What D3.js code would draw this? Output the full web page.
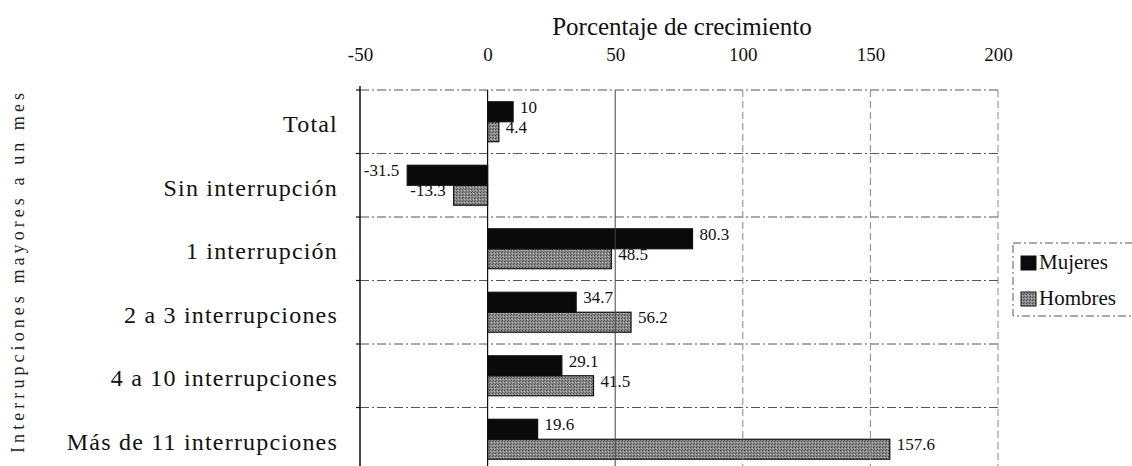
<!DOCTYPE html>
<html><head><meta charset="utf-8">
<script src="https://cdn.jsdelivr.net/npm/d3@7"></script>
<style>html,body{margin:0;padding:0;background:#fff;} svg{display:block;}</style>
</head><body>
<script>
const categories = ["Total","Sin interrupción","1 interrupción","2 a 3 interrupciones","4 a 10 interrupciones","Más de 11 interrupciones"];
const series = ["Mujeres","Hombres"];
const mujeres = [10, -31.5, 80.3, 34.7, 29.1, 19.6];
const hombres = [4.4, -13.3, 48.5, 56.2, 41.5, 157.6];
const xTicks = [-50, 0, 50, 100, 150, 200];
const xTitle = "Porcentaje de crecimiento";
const yTitle = "Interrupciones mayores a un mes";

const W = 1132, H = 466;
const FONT = "'Liberation Serif', 'Times New Roman', serif";
const svg = d3.select("body").append("svg").attr("width", W).attr("height", H)
  .style("font-family", FONT);

const defs = svg.append("defs");
const pat = defs.append("pattern").attr("id","hpat").attr("width",3).attr("height",3)
  .attr("patternUnits","userSpaceOnUse");
pat.append("rect").attr("width",3).attr("height",3).attr("fill","#8a8a8a");
pat.append("rect").attr("x",0).attr("y",0).attr("width",1).attr("height",1).attr("fill","#4a4a4a");
pat.append("rect").attr("x",2).attr("y",1).attr("width",1).attr("height",1).attr("fill","#b8b8b8");
pat.append("rect").attr("x",1).attr("y",2).attr("width",1).attr("height",1).attr("fill","#5e5e5e");

const x = d3.scaleLinear().domain([-50, 200]).range([360, 998]);
const y = d3.scaleBand().domain(categories).range([90, 471]).padding(0);
const yi = d3.scaleBand().domain(series).range([0, y.bandwidth()]).paddingInner(0).paddingOuter(0.59);

const rows = categories.map((c,i)=>({cat:c, Mujeres:mujeres[i], Hombres:hombres[i]}));

// horizontal row separators
const bounds = categories.map(c=>y(c)).concat([y.range()[1]]);
svg.append("g").selectAll("line").data(bounds).join("line")
  .attr("x1", x(-50)).attr("x2", x(200)).attr("y1", d=>d).attr("y2", d=>d)
  .attr("stroke", "#555").attr("stroke-width", 1).attr("stroke-dasharray", "9,3,2,3");

function drawSeries(name, fill) {
  const g = svg.append("g");
  g.selectAll("rect").data(rows).join("rect")
    .attr("x", d=>x(Math.min(0,d[name])))
    .attr("y", d=>y(d.cat)+yi(name))
    .attr("width", d=>Math.abs(x(d[name])-x(0)))
    .attr("height", yi.bandwidth())
    .attr("fill", fill).attr("stroke", "#111").attr("stroke-width", 1.2);
}
function drawLabels(name) {
  svg.append("g").selectAll("text").data(rows).join("text")
    .attr("x", d=> d[name] >= 0 ? x(d[name]) + 7 : x(d[name]) - 8)
    .attr("y", d=>y(d.cat)+yi(name)+yi.bandwidth()/2 - 5)
    .attr("dy","0.35em")
    .attr("text-anchor", d=> d[name] >= 0 ? "start" : "end")
    .attr("font-family", FONT).attr("font-size", 17).attr("fill", "#111")
    .text(d=>d[name]);
}
drawSeries("Hombres", "url(#hpat)");
drawLabels("Hombres");
drawSeries("Mujeres", "#0a0a0a");
drawLabels("Mujeres");

// vertical grid lines
svg.append("g").selectAll("line").data([50,100,150,200]).join("line")
  .attr("x1", d=>x(d)).attr("x2", d=>x(d)).attr("y1", 90).attr("y2", 471)
  .attr("stroke", d=> d===50 ? "#444" : "#888").attr("stroke-width", 1)
  .attr("stroke-dasharray", d=> d===50 ? null : "7,4");
// zero line
svg.append("line").attr("x1", x(0)).attr("x2", x(0)).attr("y1", 90).attr("y2", 471)
  .attr("stroke", "#111").attr("stroke-width", 1.2);

// left axis line with ticks
svg.append("line").attr("x1", x(-50)).attr("x2", x(-50)).attr("y1", 86).attr("y2", 471)
  .attr("stroke", "#111").attr("stroke-width", 1.5);
svg.append("g").selectAll("line").data(bounds).join("line")
  .attr("x1", x(-50)-4).attr("x2", x(-50)).attr("y1", d=>d).attr("y2", d=>d)
  .attr("stroke", "#111").attr("stroke-width", 1.2);

// top x axis labels
const xAxis = d3.axisTop(x).tickValues(xTicks).tickSize(0).tickPadding(0).tickFormat(d=>String(d));
const gx = svg.append("g").attr("transform", "translate(0,61)").call(xAxis);
gx.attr("font-family", FONT);
gx.select(".domain").remove();
gx.selectAll("text").attr("font-family", FONT).attr("font-size", 19).attr("fill", "#111").attr("dy", 0);

svg.append("text").attr("x", (x(-50)+x(200))/2 + 3).attr("y", 35)
  .attr("text-anchor","middle").attr("font-family", FONT).attr("font-size", 25).attr("fill","#111").text(xTitle);

// category labels
const yAxis = d3.axisLeft(y).tickSize(0).tickPadding(0);
const gy = svg.append("g").attr("transform", "translate(338,3)").call(yAxis);
gy.attr("font-family", FONT);
gy.select(".domain").remove();
gy.selectAll("text").attr("font-family", FONT).attr("font-size", 24).attr("fill","#111")
  .style("letter-spacing","1.2px");

// y title
svg.append("text").attr("transform", "translate(24,273) rotate(-90)")
  .attr("text-anchor","middle").attr("font-family", FONT).attr("font-size", 18).attr("fill","#222")
  .attr("textLength", 360).attr("lengthAdjust","spacing").text(yTitle);

// legend
const lg = svg.append("g");
lg.append("rect").attr("x", 1013).attr("y", 243).attr("width", 140).attr("height", 73)
  .attr("fill","#fff").attr("stroke","#555").attr("stroke-dasharray","8,3,2,3");
lg.selectAll("rect.sw").data(series).join("rect").attr("class","sw")
  .attr("x", 1021).attr("y", (d,i)=>256 + i*36).attr("width", 15).attr("height", 14)
  .attr("fill", (d,i)=> i===0 ? "#0a0a0a" : "url(#hpat)").attr("stroke","#111").attr("stroke-width",1);
lg.selectAll("text").data(series).join("text")
  .attr("x", 1039).attr("y", (d,i)=>269 + i*36)
  .attr("font-family", FONT).attr("font-size", 21).attr("fill","#111").text(d=>d);
</script>
</body></html>
